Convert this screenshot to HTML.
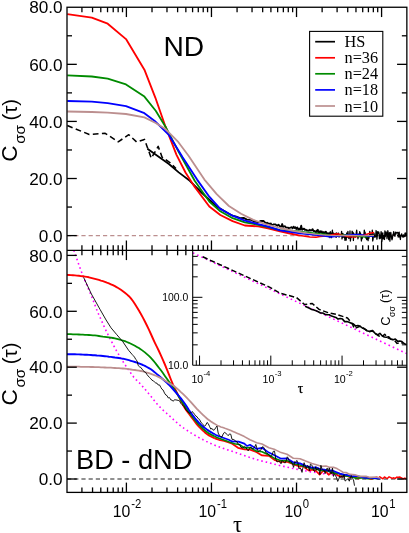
<!DOCTYPE html>
<html><head><meta charset="utf-8"><title>C(tau)</title>
<style>html,body{margin:0;padding:0;background:#fff;}body{width:409px;height:533px;overflow:hidden;font-family:"Liberation Sans",sans-serif;}</style></head>
<body>
<svg width="409" height="533" viewBox="0 0 409 533" style="display:block;will-change:transform">
<rect x="0" y="0" width="409" height="533" fill="#fff"/>
<defs>
<clipPath id="c1"><rect x="67.0" y="7.25" width="339.85" height="243.05"/></clipPath>
<clipPath id="c2"><rect x="67.0" y="250.3" width="339.85" height="242.09999999999997"/></clipPath>
<clipPath id="c3"><rect x="192.7" y="250.3" width="214.15000000000003" height="115.0"/></clipPath>
</defs>
<g clip-path="url(#c1)">
<line x1="67.00" y1="235.60" x2="406.85" y2="235.60" stroke="#bc8f8f" stroke-width="1.1" stroke-dasharray="4.2 3"/>
<polyline points="67.3,125.5 89.3,134.5 105.2,133.3 118.2,141.8 128.8,134.7 136.6,141.9 144.5,139.4 147.4,147.4 151.3,158.2 158.2,146.4 162.1,157.2 169.9,162.6 176.0,168.5" fill="none" stroke="#000" stroke-width="1.55" stroke-linejoin="round" stroke-dasharray="5.7 3.4"/>
<polyline points="147.4,148.8 168.9,164.0 178.7,172.4 189.8,180.8 202.0,193.0 216.7,206.5 228.9,213.8 232.5,215.6 236.2,216.6 240.0,218.2 243.6,217.9 247.0,219.6 250.9,219.8 254.5,221.6 258.2,222.2 261.0,220.8 263.5,221.0 266.0,223.4 267.0,222.6 267.9,223.9 268.9,223.3 269.8,224.2 270.8,223.4 271.7,225.2 272.7,224.9 273.6,224.3 274.6,224.3 275.5,224.4 276.5,225.3 277.4,225.8 278.4,224.7 279.3,225.5 280.3,226.8 281.2,226.7 282.2,224.0 283.1,227.0 284.1,226.5 285.0,226.2 286.0,227.6 286.9,227.7 287.9,227.6 288.8,228.1 289.8,227.9 290.7,227.5 291.7,227.2 292.6,228.4 293.6,226.6 294.5,228.1 295.5,227.3 296.4,229.0 297.4,227.5 298.3,229.5 299.3,228.6 300.2,229.5 301.2,225.7 302.1,229.9 303.1,229.1 304.0,228.6 305.0,230.0 305.9,229.7 306.9,230.6 307.8,230.3 308.8,230.8 309.7,229.8 310.7,230.5 311.6,230.3 312.6,229.2 313.5,231.0 314.5,231.0 315.4,232.0 316.4,230.9 317.3,231.5 318.3,231.2 319.2,232.4 320.2,231.2 321.1,232.1 322.1,232.9 323.0,232.2 324.0,232.4 324.9,232.9 325.9,231.6 326.8,233.3 327.8,233.3 328.7,233.5 329.7,233.9 330.6,234.1 331.6,234.3 332.5,233.9 333.5,233.5 334.4,234.4 335.4,234.3 336.3,233.3 337.3,234.1" fill="none" stroke="#000" stroke-width="1.8" stroke-linejoin="round" />
<polyline points="316.0,230.5 316.4,230.5 316.8,232.3 317.3,229.5 317.7,231.7 318.1,229.6 318.5,233.1 318.9,232.2 319.4,233.6 319.8,231.6 320.2,232.7 320.6,232.0 321.0,231.5 321.5,232.6 321.9,231.0 322.3,232.1 322.7,233.5 323.1,232.8 323.6,232.3 324.0,235.6 324.4,233.0 324.8,232.2 325.2,233.3 325.7,232.4 326.1,232.6 326.5,232.8 326.9,236.2 327.3,233.4 327.8,233.7 328.2,234.5 328.6,236.6 329.0,233.3 329.4,232.8 329.9,237.6 330.3,231.6 330.7,233.3 331.1,235.0 331.5,237.7 332.0,232.5 332.4,230.1 332.8,235.3 333.2,233.4 333.6,233.6 334.1,235.2 334.5,234.8 334.9,235.0 335.3,233.8 335.7,236.9 336.2,237.4 336.6,234.8 337.0,233.9 337.4,236.2 337.8,235.8 338.3,233.0 338.7,234.1 339.1,237.1 339.5,234.9 339.9,234.5 340.4,235.6 340.8,235.2 341.2,235.2 341.6,231.3 342.0,238.9 342.5,235.7 342.9,233.4 343.3,237.4 343.7,236.0 344.1,235.3 344.6,237.6 345.0,240.3 345.4,236.6 345.8,238.9 346.2,240.2 346.7,233.0 347.1,234.2 347.5,237.2 347.9,231.4 348.3,234.8 348.8,238.5 349.2,237.9 349.6,236.9 350.0,230.9 350.4,241.0 350.9,236.8 351.3,237.4 351.7,236.8 352.1,231.2 352.5,231.9 353.0,232.4 353.4,240.5 353.8,233.4 354.2,234.9 354.6,234.9 355.1,237.1 355.5,236.9 355.9,236.3 356.3,232.3 356.7,230.1 357.2,236.0 357.6,236.3 358.0,238.8 358.4,235.3 358.8,234.0 359.3,236.7 359.7,231.6 360.1,232.9 360.5,233.0 360.9,236.3 361.4,241.0 361.8,237.6 362.2,238.6 362.6,236.2 363.0,236.3 363.5,234.4 363.9,234.9 364.3,230.1 364.7,232.5 365.1,232.2 365.6,237.8 366.0,237.3 366.4,238.6 366.8,239.7 367.2,234.8 367.7,238.3 368.1,240.7 368.5,235.6 368.9,238.4 369.3,235.2 369.8,231.4 370.2,235.9 370.6,233.5 371.0,235.9 371.4,234.4 371.9,236.4 372.3,230.1 372.7,241.0 373.1,239.1 373.5,234.7 374.0,233.2 374.4,235.6 374.8,237.4 375.2,236.7 375.6,236.6 376.1,230.5 376.5,232.7 376.9,239.1 377.3,236.2 377.7,231.6 378.2,233.3 378.6,231.8 379.0,232.9 379.4,238.7 379.8,235.0 380.3,238.5 380.7,236.1 381.1,231.6 381.5,233.9 381.9,241.1 382.4,233.6 382.8,232.8 383.2,238.9 383.6,235.8 384.0,235.6 384.5,239.5 384.9,230.9 385.3,236.7 385.7,232.8 386.1,231.9 386.6,233.4 387.0,238.7 387.4,235.2 387.8,230.7 388.2,232.7 388.7,239.7 389.1,238.3 389.5,232.7 389.9,241.1 390.3,234.6 390.8,232.4 391.2,235.2 391.6,238.1 392.0,239.9 392.4,238.3 392.9,234.5 393.3,234.1 393.7,231.7 394.1,235.4 394.5,234.0 395.0,236.3 395.4,232.2 395.8,234.2 396.2,233.3 396.6,232.4 397.1,232.4 397.5,232.9 397.9,232.4 398.3,237.1 398.7,235.9 399.2,232.1 399.6,237.0 400.0,236.4 400.4,239.5 400.8,235.1 401.3,235.0 401.7,233.8 402.1,235.9 402.5,236.9 402.9,236.1 403.4,234.9 403.8,237.1 404.2,235.8 404.6,236.3 405.0,233.1 405.5,236.2 405.9,232.9 406.3,233.4 406.7,236.0" fill="none" stroke="#000" stroke-width="1.25" stroke-linejoin="round" />
<polyline points="300.0,235.6 310.0,237.0 316.0,237.2 320.0,236.6 326.0,236.0 331.0,235.0 337.0,233.8 343.0,235.2 349.0,236.8 355.0,237.0 361.0,235.6 366.0,234.4 370.0,233.2 374.0,232.4" fill="none" stroke="#ff0000" stroke-width="1.5" stroke-linejoin="round" />
<polyline points="67.3,14.2 91.8,17.6 107.7,23.7 126.0,39.1 144.4,69.7 155.4,97.8 165.5,126.7 176.5,154.8 185.5,172.5 194.7,186.9 209.3,206.5 220.3,215.0 232.6,221.1 244.8,225.5 258.2,226.4 268.0,228.4 280.0,231.4 290.0,233.5 300.0,235.6" fill="none" stroke="#ff0000" stroke-width="1.85" stroke-linejoin="round" />
<polyline points="300.0,231.4 310.0,232.6 320.0,233.8 325.0,234.2 330.0,235.4 338.0,235.8 346.0,234.8 352.0,235.4 359.0,236.2 365.0,237.0 370.0,236.2 374.0,235.6" fill="none" stroke="#008b00" stroke-width="1.4" stroke-linejoin="round" />
<polyline points="67.3,75.3 91.8,76.5 107.7,78.7 126.0,84.4 144.4,96.6 155.7,110.8 165.5,126.7 178.9,152.3 194.7,180.8 209.3,201.6 220.3,211.3 232.6,218.2 244.8,222.3 258.2,224.8 268.0,227.2 280.0,230.2 290.0,230.6 300.0,231.4" fill="none" stroke="#008b00" stroke-width="1.8" stroke-linejoin="round" />
<polyline points="300.0,233.4 310.0,234.6 320.0,235.4 326.0,236.2 331.0,236.9 337.0,236.2 344.0,235.6 351.0,234.8 358.0,234.4 364.0,235.2 369.0,236.2 374.0,236.0" fill="none" stroke="#0000ff" stroke-width="1.5" stroke-linejoin="round" />
<polyline points="67.3,101.0 91.8,101.7 107.7,103.2 126.0,106.1 144.4,113.2 155.7,121.8 169.1,135.2 182.6,157.2 197.1,179.6 209.3,196.7 220.3,208.9 232.6,215.7 244.8,220.6 258.2,224.1 268.0,226.5 280.0,230.4 290.0,231.8 300.0,233.4" fill="none" stroke="#0000ff" stroke-width="1.85" stroke-linejoin="round" />
<polyline points="305.0,232.8 320.0,234.6 335.0,235.6 350.0,235.4 362.0,235.8 374.0,235.4" fill="none" stroke="#bc8f8f" stroke-width="1.3" stroke-linejoin="round" />
<polyline points="67.3,111.5 91.8,112.0 107.7,112.7 126.0,114.0 144.4,117.4 155.7,123.0 165.5,129.1 177.7,141.3 188.7,156.0 204.4,179.6 216.7,194.2 228.9,206.0 241.1,213.8 253.3,219.9 265.6,224.1 280.0,228.0 292.0,230.6 305.0,232.8" fill="none" stroke="#bc8f8f" stroke-width="1.8" stroke-linejoin="round" />
</g>
<g clip-path="url(#c2)">
<line x1="67.00" y1="479.00" x2="406.85" y2="479.00" stroke="#222" stroke-width="1.2" stroke-dasharray="4.2 3"/>
<polyline points="73.8,250.3 76.3,257.4 78.8,264.6 81.3,271.5 83.8,277.9 86.3,283.9 88.8,289.8 91.3,295.7 93.8,301.9 96.3,308.7 98.8,314.6 101.3,320.2 103.8,325.8 106.3,331.2 108.8,336.2 111.3,341.1 113.8,345.8 116.3,350.4 118.8,354.7 121.3,358.9 123.8,362.8 126.3,366.6 128.8,370.2 131.3,373.8 133.8,377.2 136.3,379.9 138.8,382.3 141.3,384.9 143.8,387.8 146.3,390.8 148.8,393.8 151.3,396.8 153.8,400.0 156.3,403.1 158.8,405.9 161.3,408.5 163.8,410.8 166.3,413.0 168.8,415.2 171.3,417.5 173.8,419.8 176.3,422.1 178.8,424.3 181.3,426.3 183.8,428.1 186.3,429.8 188.8,431.5 191.3,433.1 193.8,434.6 196.3,436.1 198.8,437.5 201.3,438.8 203.8,440.1 206.3,441.4 208.8,442.6 211.3,443.7 213.8,444.8 216.3,445.9 218.8,446.8 221.3,447.8 223.8,448.6 226.3,449.4 228.8,450.2 231.3,451.0 233.8,451.9 236.3,452.7 238.8,453.6 241.3,454.5 243.8,455.4 246.3,456.2 248.8,457.1 251.3,457.9 253.8,458.7 256.3,459.5 258.8,460.2 261.3,460.9 263.8,461.5 266.3,462.1 268.8,462.8 271.3,463.4 273.8,464.0 276.3,464.7 278.8,465.3 281.3,465.8 283.8,466.4 286.3,467.0 288.8,467.5 291.3,468.1 293.8,468.6 296.3,469.1 298.8,469.6 301.3,470.1 303.8,470.6 306.3,471.0 308.8,471.5 311.3,471.9 313.8,472.3 316.3,472.7 318.8,473.0 321.3,473.4 323.8,473.7 326.3,474.0 328.8,474.3 331.3,474.6 333.8,474.9 336.3,475.1 338.8,475.4 341.3,475.6 343.8,475.9 346.3,476.1 348.8,476.3 351.3,476.5 353.8,476.7 356.3,476.9 358.8,477.0 361.3,477.2 363.8,477.3 366.3,477.5 368.8,477.6 371.3,477.7 373.8,477.8 376.3,477.9 378.8,478.0" fill="none" stroke="#ff00ff" stroke-width="1.6" stroke-linejoin="round" stroke-dasharray="1.6 2.9" stroke-linecap="butt"/>
<polyline points="214.9,438.4 216.9,439.1 218.9,439.8 224.0,441.0 228.7,442.5 232.2,443.8 238.0,447.8 244.4,449.3 250.0,449.6 256.7,452.2 262.0,455.4 268.9,455.8 275.0,460.2 281.1,462.0 287.0,461.8 293.3,464.2 300.0,466.8 303.0,466.0 305.6,468.4 309.0,470.6 312.0,469.6 316.0,471.0 319.6,474.6 323.0,471.0 326.0,471.6 328.7,474.8 332.0,472.4 335.0,473.2 338.0,475.6 342.0,476.6 346.0,475.4 350.0,477.2 354.0,476.4 358.0,478.6 362.0,477.0 366.0,477.6 372.0,479.2" fill="none" stroke="#ff0000" stroke-width="1.7" stroke-linejoin="round" />
<polyline points="66.9,274.9 68.9,275.0 70.9,275.1 72.9,275.2 74.9,275.4 76.9,275.6 78.9,275.8 80.9,276.1 82.9,276.3 84.9,276.6 86.9,276.9 88.9,277.3 90.9,277.8 92.9,278.3 94.9,278.8 96.9,279.3 98.9,279.9 100.9,280.6 102.9,281.2 104.9,281.9 106.9,282.7 108.9,283.4 110.9,284.3 112.9,285.2 114.9,286.2 116.9,287.3 118.9,288.5 120.9,289.8 122.9,291.2 124.9,292.7 126.9,294.4 128.9,296.2 130.9,298.4 132.9,301.0 134.9,304.0 136.9,307.2 138.9,310.5 140.9,314.0 142.9,317.6 144.9,321.5 146.9,325.5 148.9,329.7 150.9,334.0 152.9,338.5 154.9,342.8 156.9,346.9 158.9,351.0 160.9,355.4 162.9,359.9 164.9,364.5 166.9,369.3 168.9,374.4 170.9,379.5 172.9,384.3 174.9,388.6 176.9,392.7 178.9,396.6 180.9,400.7 182.9,404.7 184.9,408.2 186.9,411.1 188.9,413.7 190.9,416.3 192.9,419.0 194.9,421.7 196.9,424.3 198.9,426.6 200.9,428.6 202.9,430.6 204.9,432.4 206.9,434.0 208.9,435.4 210.9,436.5 212.9,437.5 214.9,438.4" fill="none" stroke="#ff0000" stroke-width="1.9" stroke-linejoin="round" />
<polyline points="372.0,479.2 373.6,477.8 375.2,477.6 376.7,477.1 378.3,478.7 379.8,476.8 381.4,477.9 382.9,478.8 384.5,476.9 386.0,478.0 387.6,478.2 389.1,476.8 390.7,477.6 392.2,478.4 393.8,477.8 395.3,478.4 396.9,477.1 398.4,477.3 400.0,477.0 401.5,477.9 403.1,478.9 404.6,478.1 406.2,478.5" fill="none" stroke="#ff0000" stroke-width="1.45" stroke-linejoin="round" />
<polyline points="214.9,436.5 216.9,437.4 218.9,438.2 228.7,441.8 234.6,443.7 240.0,444.8 244.4,447.9 250.0,447.6 256.7,451.2 262.0,451.8 268.9,455.0 275.0,458.6 281.1,460.8 287.0,460.6 293.3,463.8 300.0,465.0 305.6,466.8 312.0,468.6 316.0,468.8 320.0,470.4 326.0,470.6 332.0,472.6 338.0,473.6 344.0,475.6 350.0,476.4 356.0,478.2 362.0,477.6 368.0,478.6 374.0,478.2 380.0,478.8" fill="none" stroke="#008b00" stroke-width="1.6" stroke-linejoin="round" />
<polyline points="66.9,334.1 68.9,334.1 70.9,334.2 72.9,334.3 74.9,334.3 76.9,334.4 78.9,334.5 80.9,334.6 82.9,334.7 84.9,334.8 86.9,334.9 88.9,335.0 90.9,335.1 92.9,335.3 94.9,335.4 96.9,335.7 98.9,336.0 100.9,336.3 102.9,336.6 104.9,336.8 106.9,337.1 108.9,337.4 110.9,337.7 112.9,338.0 114.9,338.4 116.9,338.9 118.9,339.4 120.9,340.0 122.9,340.6 124.9,341.2 126.9,342.0 128.9,342.8 130.9,343.7 132.9,344.7 134.9,345.7 136.9,346.9 138.9,348.1 140.9,349.4 142.9,350.9 144.9,352.4 146.9,354.1 148.9,355.9 150.9,357.9 152.9,360.1 154.9,362.5 156.9,365.1 158.9,367.7 160.9,370.3 162.9,373.1 164.9,375.9 166.9,378.7 168.9,381.5 170.9,384.3 172.9,387.2 174.9,390.2 176.9,393.4 178.9,396.7 180.9,400.0 182.9,403.2 184.9,406.3 186.9,409.3 188.9,412.1 190.9,414.8 192.9,417.5 194.9,420.0 196.9,422.4 198.9,424.6 200.9,426.6 202.9,428.6 204.9,430.4 206.9,432.0 208.9,433.4 210.9,434.5 212.9,435.6 214.9,436.5" fill="none" stroke="#008b00" stroke-width="1.8" stroke-linejoin="round" />
<polyline points="214.9,434.4 216.9,435.4 218.9,436.3 228.7,439.8 232.2,441.4 238.5,441.6 244.4,443.6 247.0,446.0 250.0,444.8 256.7,448.9 262.0,447.8 268.9,452.6 275.0,455.4 281.1,458.7 287.0,458.4 293.3,462.3 300.0,463.4 305.6,465.8 312.0,467.6 316.0,467.4 320.0,469.0 324.4,469.6 328.0,470.6 332.0,470.4 336.0,472.0 340.0,473.6 344.0,474.6 348.0,475.2 352.0,476.4 358.0,476.0 364.0,477.8 372.0,478.0 380.0,478.6" fill="none" stroke="#0000ff" stroke-width="1.7" stroke-linejoin="round" />
<polyline points="66.9,354.2 68.9,354.2 70.9,354.2 72.9,354.3 74.9,354.3 76.9,354.4 78.9,354.4 80.9,354.5 82.9,354.6 84.9,354.7 86.9,354.8 88.9,354.9 90.9,355.0 92.9,355.2 94.9,355.3 96.9,355.5 98.9,355.6 100.9,355.8 102.9,356.0 104.9,356.2 106.9,356.4 108.9,356.7 110.9,356.9 112.9,357.2 114.9,357.5 116.9,357.7 118.9,358.0 120.9,358.4 122.9,358.7 124.9,359.2 126.9,359.7 128.9,360.2 130.9,360.8 132.9,361.4 134.9,362.0 136.9,362.7 138.9,363.4 140.9,364.2 142.9,365.0 144.9,365.9 146.9,367.0 148.9,368.1 150.9,369.3 152.9,370.8 154.9,372.4 156.9,374.1 158.9,375.8 160.9,377.5 162.9,379.2 164.9,381.0 166.9,382.8 168.9,384.7 170.9,386.8 172.9,389.0 174.9,391.3 176.9,393.6 178.9,396.0 180.9,398.4 182.9,401.0 184.9,403.7 186.9,406.7 188.9,410.0 190.9,412.8 192.9,415.5 194.9,418.1 196.9,420.5 198.9,422.7 200.9,424.6 202.9,426.4 204.9,428.0 206.9,429.5 208.9,430.9 210.9,432.1 212.9,433.3 214.9,434.4" fill="none" stroke="#0000ff" stroke-width="1.9" stroke-linejoin="round" />
<polyline points="214.9,424.0 216.9,425.1 218.9,426.1 220.9,426.9 222.9,427.6 224.9,428.3 226.9,428.9 228.9,429.7 230.9,430.5 232.9,431.4 234.9,432.3 236.9,433.2 238.9,434.1 244.4,436.6 250.0,439.8 256.7,442.8 262.0,444.0 268.9,447.7 275.0,449.6 281.1,452.6 287.0,454.2 293.3,458.2 300.0,458.8 305.6,461.1 312.0,463.4 318.0,465.2 322.0,466.4 326.0,466.0 330.0,467.4 334.0,467.4 337.0,468.6 340.0,470.4 343.0,472.2 346.0,472.6 350.0,474.4 355.0,474.8 360.0,476.4 366.0,476.2 370.0,477.4 376.0,477.0 380.0,478.0" fill="none" stroke="#bc8f8f" stroke-width="1.6" stroke-linejoin="round" />
<polyline points="66.9,366.6 68.9,366.6 70.9,366.6 72.9,366.6 74.9,366.7 76.9,366.7 78.9,366.7 80.9,366.8 82.9,366.8 84.9,366.8 86.9,366.9 88.9,366.9 90.9,367.0 92.9,367.0 94.9,367.1 96.9,367.2 98.9,367.2 100.9,367.3 102.9,367.4 104.9,367.5 106.9,367.6 108.9,367.6 110.9,367.7 112.9,367.9 114.9,368.0 116.9,368.1 118.9,368.2 120.9,368.4 122.9,368.5 124.9,368.7 126.9,368.9 128.9,369.2 130.9,369.5 132.9,369.8 134.9,370.0 136.9,370.3 138.9,370.6 140.9,371.0 142.9,371.4 144.9,372.0 146.9,372.6 148.9,373.2 150.9,373.9 152.9,374.6 154.9,375.3 156.9,376.2 158.9,377.1 160.9,378.1 162.9,379.2 164.9,380.5 166.9,381.7 168.9,383.0 170.9,384.2 172.9,385.3 174.9,386.7 176.9,388.4 178.9,390.2 180.9,392.1 182.9,393.9 184.9,395.9 186.9,397.9 188.9,400.0 190.9,402.1 192.9,404.3 194.9,406.6 196.9,408.8 198.9,410.9 200.9,412.9 202.9,414.8 204.9,416.7 206.9,418.5 208.9,420.1 210.9,421.5 212.9,422.8 214.9,424.0" fill="none" stroke="#bc8f8f" stroke-width="1.8" stroke-linejoin="round" />
<polyline points="83.6,277.4 91.4,294.0 100.2,309.7 106.1,320.0 111.0,327.8 116.8,334.7 122.7,341.5 128.6,350.3 132.0,354.3 133.2,355.6 134.5,357.1 135.8,359.5 137.0,360.7 138.2,365.5 139.5,366.8 140.8,367.4 142.0,369.1 143.2,370.4 144.5,372.0 145.8,372.6 147.0,374.6 148.2,376.0 149.5,377.5 150.8,378.7 152.0,380.3 153.2,380.6 154.5,382.1 155.8,383.0 157.0,383.2 158.2,385.0 159.5,384.9 160.8,387.3 162.0,389.3 163.2,390.1 164.5,393.1 165.8,395.0 167.0,395.6 168.2,397.9 169.5,397.6 170.8,399.9 172.0,400.1 173.2,401.3 174.5,399.7 175.8,399.9 177.0,400.1 178.2,400.4 179.5,400.8 180.8,403.4 182.0,404.7 183.2,405.5 184.5,407.0 185.8,409.9 187.0,410.6 188.2,412.4 189.5,413.3 190.8,412.8 192.0,411.6 193.2,412.4 194.5,414.3 195.8,416.1 197.0,416.7 198.2,418.6 199.5,419.4 200.8,422.0 202.0,423.4 203.2,424.7 204.5,426.3 205.8,425.0 207.0,422.5 208.2,423.5 209.5,426.4 210.8,429.1 212.0,428.4 213.2,430.2 214.5,429.7 215.8,427.6 217.0,426.0 218.2,433.1 219.5,435.6 220.8,436.5 222.0,436.9 223.2,434.0 224.5,432.3 225.8,433.1 227.0,434.5 228.2,435.7 229.5,433.9 230.8,434.3 232.0,439.4 233.2,439.4 234.5,439.9 235.8,441.5 237.0,441.7 238.2,444.2 239.5,444.4 240.8,447.2 242.0,447.8 243.2,447.8 244.5,446.2 245.8,447.4 247.0,449.3 248.2,450.9 249.5,448.5 250.8,446.8 252.0,448.6 253.2,448.7 254.5,447.5 255.8,444.4 257.0,448.5 258.2,451.4 259.5,450.4 260.8,450.3 262.0,447.1 263.2,446.8 264.5,448.6 265.8,452.6 267.0,453.1 268.2,453.9 269.5,455.6 270.8,456.3 272.0,455.5 273.2,451.4 274.5,451.1 275.8,459.3 277.0,462.0 278.2,461.4 279.5,461.3 281.0,463.8 282.1,460.4 283.1,461.6 284.2,462.5 285.2,462.9 286.3,460.4 287.3,456.8 288.4,458.3 289.4,462.0 290.5,461.6 291.5,462.0 292.6,464.5 293.6,467.4 294.7,461.6 295.7,462.5 296.8,460.4 297.8,462.4 298.9,468.9 299.9,468.0 301.0,469.0 302.0,472.4 303.1,466.7 304.1,462.7 305.2,466.1 306.2,468.5 307.3,465.6 308.3,466.0 309.4,470.8 310.4,464.2 311.5,464.8 312.5,466.3 313.6,470.5 314.6,471.6 315.7,466.7 316.7,470.3 317.8,468.3 318.8,468.3 319.9,474.7 320.9,465.3 322.0,469.2 323.0,470.3 324.1,470.0 325.1,473.7 326.2,469.9 327.2,468.1 328.3,471.4 329.3,467.9 330.4,473.2 331.4,473.8 332.5,468.1 333.5,476.4 334.6,473.8 335.6,475.8 336.7,477.9 337.7,481.4 338.8,479.1 339.8,475.9 340.9,477.8 341.9,476.0 343.0,477.8 344.0,474.6 345.1,481.1 346.1,480.2 347.2,479.2 348.2,478.9 349.3,481.2 350.3,477.8 351.4,475.6 352.4,478.6 353.5,479.9 354.5,485.7" fill="none" stroke="#000" stroke-width="0.9" stroke-linejoin="round" />
</g>
<rect x="192.7" y="250.3" width="214.15000000000003" height="115.0" fill="#fff"/>
<g clip-path="url(#c3)">
<polyline points="192.9,252.9 406.6,353.5" fill="none" stroke="#ff00ff" stroke-width="1.6" stroke-linejoin="round" stroke-dasharray="1.6 3.1"/>
<polyline points="202.7,256.8 270.0,287.4 280.0,293.2 296.6,297.6 304.5,304.5 312.3,303.5 319.1,309.4 328.0,312.6 336.8,314.4 342.6,316.4 347.5,318.0 352.4,324.0 354.4,328.6 360.0,326.2 363.0,328.0 366.1,329.8 369.2,332.1 372.3,330.4 375.4,333.5 378.5,335.8 381.6,337.0 384.7,334.3 387.8,337.8 390.9,339.0 394.0,339.7 397.1,343.4 400.2,342.5 403.3,343.4" fill="none" stroke="#000" stroke-width="1.5" stroke-linejoin="round" stroke-dasharray="5.3 2.6"/>
<polyline points="305.1,306.3 307.3,307.2 309.5,308.3 311.7,309.5 313.9,309.9 316.1,310.7 318.3,311.7 320.5,313.0 322.7,313.0 324.9,314.3 327.1,314.8 329.3,314.8 331.5,316.1 333.7,316.7 335.9,317.4 338.1,319.1 340.3,318.5 342.5,319.1 344.7,321.6 346.9,321.6 349.1,322.2 351.3,323.2 353.5,324.1 355.7,326.1 357.9,325.5 360.1,326.3 362.3,327.9 364.5,328.8 366.7,330.7 368.9,331.3 371.1,331.0 373.3,331.4 375.5,333.7 377.7,334.8 379.9,333.3 382.1,335.8 384.3,337.0 386.5,337.2 388.7,336.8 390.9,339.2 393.1,339.8 395.3,339.1 397.5,341.2 399.7,341.0 401.9,341.6 404.1,343.5 406.3,344.6" fill="none" stroke="#000" stroke-width="1.6" stroke-linejoin="round" />
</g>
<line x1="81.92" y1="7.25" x2="81.92" y2="12.25" stroke="#000" stroke-width="1.3" />
<line x1="92.55" y1="7.25" x2="92.55" y2="12.25" stroke="#000" stroke-width="1.3" />
<line x1="100.79" y1="7.25" x2="100.79" y2="12.25" stroke="#000" stroke-width="1.3" />
<line x1="107.53" y1="7.25" x2="107.53" y2="12.25" stroke="#000" stroke-width="1.3" />
<line x1="113.22" y1="7.25" x2="113.22" y2="12.25" stroke="#000" stroke-width="1.3" />
<line x1="118.16" y1="7.25" x2="118.16" y2="12.25" stroke="#000" stroke-width="1.3" />
<line x1="122.51" y1="7.25" x2="122.51" y2="12.25" stroke="#000" stroke-width="1.3" />
<line x1="126.40" y1="7.25" x2="126.40" y2="17.05" stroke="#000" stroke-width="1.3" />
<line x1="152.01" y1="7.25" x2="152.01" y2="12.25" stroke="#000" stroke-width="1.3" />
<line x1="166.98" y1="7.25" x2="166.98" y2="12.25" stroke="#000" stroke-width="1.3" />
<line x1="177.61" y1="7.25" x2="177.61" y2="12.25" stroke="#000" stroke-width="1.3" />
<line x1="185.85" y1="7.25" x2="185.85" y2="12.25" stroke="#000" stroke-width="1.3" />
<line x1="192.59" y1="7.25" x2="192.59" y2="12.25" stroke="#000" stroke-width="1.3" />
<line x1="198.28" y1="7.25" x2="198.28" y2="12.25" stroke="#000" stroke-width="1.3" />
<line x1="203.22" y1="7.25" x2="203.22" y2="12.25" stroke="#000" stroke-width="1.3" />
<line x1="207.57" y1="7.25" x2="207.57" y2="12.25" stroke="#000" stroke-width="1.3" />
<line x1="211.46" y1="7.25" x2="211.46" y2="17.05" stroke="#000" stroke-width="1.3" />
<line x1="237.07" y1="7.25" x2="237.07" y2="12.25" stroke="#000" stroke-width="1.3" />
<line x1="252.04" y1="7.25" x2="252.04" y2="12.25" stroke="#000" stroke-width="1.3" />
<line x1="262.67" y1="7.25" x2="262.67" y2="12.25" stroke="#000" stroke-width="1.3" />
<line x1="270.91" y1="7.25" x2="270.91" y2="12.25" stroke="#000" stroke-width="1.3" />
<line x1="277.65" y1="7.25" x2="277.65" y2="12.25" stroke="#000" stroke-width="1.3" />
<line x1="283.34" y1="7.25" x2="283.34" y2="12.25" stroke="#000" stroke-width="1.3" />
<line x1="288.28" y1="7.25" x2="288.28" y2="12.25" stroke="#000" stroke-width="1.3" />
<line x1="292.63" y1="7.25" x2="292.63" y2="12.25" stroke="#000" stroke-width="1.3" />
<line x1="296.52" y1="7.25" x2="296.52" y2="17.05" stroke="#000" stroke-width="1.3" />
<line x1="322.13" y1="7.25" x2="322.13" y2="12.25" stroke="#000" stroke-width="1.3" />
<line x1="337.10" y1="7.25" x2="337.10" y2="12.25" stroke="#000" stroke-width="1.3" />
<line x1="347.73" y1="7.25" x2="347.73" y2="12.25" stroke="#000" stroke-width="1.3" />
<line x1="355.97" y1="7.25" x2="355.97" y2="12.25" stroke="#000" stroke-width="1.3" />
<line x1="362.71" y1="7.25" x2="362.71" y2="12.25" stroke="#000" stroke-width="1.3" />
<line x1="368.40" y1="7.25" x2="368.40" y2="12.25" stroke="#000" stroke-width="1.3" />
<line x1="373.34" y1="7.25" x2="373.34" y2="12.25" stroke="#000" stroke-width="1.3" />
<line x1="377.69" y1="7.25" x2="377.69" y2="12.25" stroke="#000" stroke-width="1.3" />
<line x1="381.58" y1="7.25" x2="381.58" y2="17.05" stroke="#000" stroke-width="1.3" />
<line x1="81.92" y1="250.30" x2="81.92" y2="245.30" stroke="#000" stroke-width="1.3" />
<line x1="92.55" y1="250.30" x2="92.55" y2="245.30" stroke="#000" stroke-width="1.3" />
<line x1="100.79" y1="250.30" x2="100.79" y2="245.30" stroke="#000" stroke-width="1.3" />
<line x1="107.53" y1="250.30" x2="107.53" y2="245.30" stroke="#000" stroke-width="1.3" />
<line x1="113.22" y1="250.30" x2="113.22" y2="245.30" stroke="#000" stroke-width="1.3" />
<line x1="118.16" y1="250.30" x2="118.16" y2="245.30" stroke="#000" stroke-width="1.3" />
<line x1="122.51" y1="250.30" x2="122.51" y2="245.30" stroke="#000" stroke-width="1.3" />
<line x1="126.40" y1="250.30" x2="126.40" y2="240.50" stroke="#000" stroke-width="1.3" />
<line x1="152.01" y1="250.30" x2="152.01" y2="245.30" stroke="#000" stroke-width="1.3" />
<line x1="166.98" y1="250.30" x2="166.98" y2="245.30" stroke="#000" stroke-width="1.3" />
<line x1="177.61" y1="250.30" x2="177.61" y2="245.30" stroke="#000" stroke-width="1.3" />
<line x1="185.85" y1="250.30" x2="185.85" y2="245.30" stroke="#000" stroke-width="1.3" />
<line x1="192.59" y1="250.30" x2="192.59" y2="245.30" stroke="#000" stroke-width="1.3" />
<line x1="198.28" y1="250.30" x2="198.28" y2="245.30" stroke="#000" stroke-width="1.3" />
<line x1="203.22" y1="250.30" x2="203.22" y2="245.30" stroke="#000" stroke-width="1.3" />
<line x1="207.57" y1="250.30" x2="207.57" y2="245.30" stroke="#000" stroke-width="1.3" />
<line x1="211.46" y1="250.30" x2="211.46" y2="240.50" stroke="#000" stroke-width="1.3" />
<line x1="237.07" y1="250.30" x2="237.07" y2="245.30" stroke="#000" stroke-width="1.3" />
<line x1="252.04" y1="250.30" x2="252.04" y2="245.30" stroke="#000" stroke-width="1.3" />
<line x1="262.67" y1="250.30" x2="262.67" y2="245.30" stroke="#000" stroke-width="1.3" />
<line x1="270.91" y1="250.30" x2="270.91" y2="245.30" stroke="#000" stroke-width="1.3" />
<line x1="277.65" y1="250.30" x2="277.65" y2="245.30" stroke="#000" stroke-width="1.3" />
<line x1="283.34" y1="250.30" x2="283.34" y2="245.30" stroke="#000" stroke-width="1.3" />
<line x1="288.28" y1="250.30" x2="288.28" y2="245.30" stroke="#000" stroke-width="1.3" />
<line x1="292.63" y1="250.30" x2="292.63" y2="245.30" stroke="#000" stroke-width="1.3" />
<line x1="296.52" y1="250.30" x2="296.52" y2="240.50" stroke="#000" stroke-width="1.3" />
<line x1="322.13" y1="250.30" x2="322.13" y2="245.30" stroke="#000" stroke-width="1.3" />
<line x1="337.10" y1="250.30" x2="337.10" y2="245.30" stroke="#000" stroke-width="1.3" />
<line x1="347.73" y1="250.30" x2="347.73" y2="245.30" stroke="#000" stroke-width="1.3" />
<line x1="355.97" y1="250.30" x2="355.97" y2="245.30" stroke="#000" stroke-width="1.3" />
<line x1="362.71" y1="250.30" x2="362.71" y2="245.30" stroke="#000" stroke-width="1.3" />
<line x1="368.40" y1="250.30" x2="368.40" y2="245.30" stroke="#000" stroke-width="1.3" />
<line x1="373.34" y1="250.30" x2="373.34" y2="245.30" stroke="#000" stroke-width="1.3" />
<line x1="377.69" y1="250.30" x2="377.69" y2="245.30" stroke="#000" stroke-width="1.3" />
<line x1="381.58" y1="250.30" x2="381.58" y2="240.50" stroke="#000" stroke-width="1.3" />
<line x1="81.92" y1="250.30" x2="81.92" y2="255.30" stroke="#000" stroke-width="1.3" />
<line x1="92.55" y1="250.30" x2="92.55" y2="255.30" stroke="#000" stroke-width="1.3" />
<line x1="100.79" y1="250.30" x2="100.79" y2="255.30" stroke="#000" stroke-width="1.3" />
<line x1="107.53" y1="250.30" x2="107.53" y2="255.30" stroke="#000" stroke-width="1.3" />
<line x1="113.22" y1="250.30" x2="113.22" y2="255.30" stroke="#000" stroke-width="1.3" />
<line x1="118.16" y1="250.30" x2="118.16" y2="255.30" stroke="#000" stroke-width="1.3" />
<line x1="122.51" y1="250.30" x2="122.51" y2="255.30" stroke="#000" stroke-width="1.3" />
<line x1="126.40" y1="250.30" x2="126.40" y2="260.10" stroke="#000" stroke-width="1.3" />
<line x1="152.01" y1="250.30" x2="152.01" y2="255.30" stroke="#000" stroke-width="1.3" />
<line x1="166.98" y1="250.30" x2="166.98" y2="255.30" stroke="#000" stroke-width="1.3" />
<line x1="177.61" y1="250.30" x2="177.61" y2="255.30" stroke="#000" stroke-width="1.3" />
<line x1="185.85" y1="250.30" x2="185.85" y2="255.30" stroke="#000" stroke-width="1.3" />
<line x1="81.92" y1="492.40" x2="81.92" y2="487.40" stroke="#000" stroke-width="1.3" />
<line x1="92.55" y1="492.40" x2="92.55" y2="487.40" stroke="#000" stroke-width="1.3" />
<line x1="100.79" y1="492.40" x2="100.79" y2="487.40" stroke="#000" stroke-width="1.3" />
<line x1="107.53" y1="492.40" x2="107.53" y2="487.40" stroke="#000" stroke-width="1.3" />
<line x1="113.22" y1="492.40" x2="113.22" y2="487.40" stroke="#000" stroke-width="1.3" />
<line x1="118.16" y1="492.40" x2="118.16" y2="487.40" stroke="#000" stroke-width="1.3" />
<line x1="122.51" y1="492.40" x2="122.51" y2="487.40" stroke="#000" stroke-width="1.3" />
<line x1="126.40" y1="492.40" x2="126.40" y2="482.60" stroke="#000" stroke-width="1.3" />
<line x1="152.01" y1="492.40" x2="152.01" y2="487.40" stroke="#000" stroke-width="1.3" />
<line x1="166.98" y1="492.40" x2="166.98" y2="487.40" stroke="#000" stroke-width="1.3" />
<line x1="177.61" y1="492.40" x2="177.61" y2="487.40" stroke="#000" stroke-width="1.3" />
<line x1="185.85" y1="492.40" x2="185.85" y2="487.40" stroke="#000" stroke-width="1.3" />
<line x1="192.59" y1="492.40" x2="192.59" y2="487.40" stroke="#000" stroke-width="1.3" />
<line x1="198.28" y1="492.40" x2="198.28" y2="487.40" stroke="#000" stroke-width="1.3" />
<line x1="203.22" y1="492.40" x2="203.22" y2="487.40" stroke="#000" stroke-width="1.3" />
<line x1="207.57" y1="492.40" x2="207.57" y2="487.40" stroke="#000" stroke-width="1.3" />
<line x1="211.46" y1="492.40" x2="211.46" y2="482.60" stroke="#000" stroke-width="1.3" />
<line x1="237.07" y1="492.40" x2="237.07" y2="487.40" stroke="#000" stroke-width="1.3" />
<line x1="252.04" y1="492.40" x2="252.04" y2="487.40" stroke="#000" stroke-width="1.3" />
<line x1="262.67" y1="492.40" x2="262.67" y2="487.40" stroke="#000" stroke-width="1.3" />
<line x1="270.91" y1="492.40" x2="270.91" y2="487.40" stroke="#000" stroke-width="1.3" />
<line x1="277.65" y1="492.40" x2="277.65" y2="487.40" stroke="#000" stroke-width="1.3" />
<line x1="283.34" y1="492.40" x2="283.34" y2="487.40" stroke="#000" stroke-width="1.3" />
<line x1="288.28" y1="492.40" x2="288.28" y2="487.40" stroke="#000" stroke-width="1.3" />
<line x1="292.63" y1="492.40" x2="292.63" y2="487.40" stroke="#000" stroke-width="1.3" />
<line x1="296.52" y1="492.40" x2="296.52" y2="482.60" stroke="#000" stroke-width="1.3" />
<line x1="322.13" y1="492.40" x2="322.13" y2="487.40" stroke="#000" stroke-width="1.3" />
<line x1="337.10" y1="492.40" x2="337.10" y2="487.40" stroke="#000" stroke-width="1.3" />
<line x1="347.73" y1="492.40" x2="347.73" y2="487.40" stroke="#000" stroke-width="1.3" />
<line x1="355.97" y1="492.40" x2="355.97" y2="487.40" stroke="#000" stroke-width="1.3" />
<line x1="362.71" y1="492.40" x2="362.71" y2="487.40" stroke="#000" stroke-width="1.3" />
<line x1="368.40" y1="492.40" x2="368.40" y2="487.40" stroke="#000" stroke-width="1.3" />
<line x1="373.34" y1="492.40" x2="373.34" y2="487.40" stroke="#000" stroke-width="1.3" />
<line x1="377.69" y1="492.40" x2="377.69" y2="487.40" stroke="#000" stroke-width="1.3" />
<line x1="381.58" y1="492.40" x2="381.58" y2="482.60" stroke="#000" stroke-width="1.3" />
<line x1="67.00" y1="235.60" x2="76.80" y2="235.60" stroke="#000" stroke-width="1.3" />
<line x1="67.00" y1="207.06" x2="72.00" y2="207.06" stroke="#000" stroke-width="1.3" />
<line x1="67.00" y1="178.51" x2="76.80" y2="178.51" stroke="#000" stroke-width="1.3" />
<line x1="67.00" y1="149.97" x2="72.00" y2="149.97" stroke="#000" stroke-width="1.3" />
<line x1="67.00" y1="121.42" x2="76.80" y2="121.42" stroke="#000" stroke-width="1.3" />
<line x1="67.00" y1="92.88" x2="72.00" y2="92.88" stroke="#000" stroke-width="1.3" />
<line x1="67.00" y1="64.34" x2="76.80" y2="64.34" stroke="#000" stroke-width="1.3" />
<line x1="67.00" y1="35.79" x2="72.00" y2="35.79" stroke="#000" stroke-width="1.3" />
<line x1="406.85" y1="235.60" x2="397.05" y2="235.60" stroke="#000" stroke-width="1.3" />
<line x1="406.85" y1="207.06" x2="401.85" y2="207.06" stroke="#000" stroke-width="1.3" />
<line x1="406.85" y1="178.51" x2="397.05" y2="178.51" stroke="#000" stroke-width="1.3" />
<line x1="406.85" y1="149.97" x2="401.85" y2="149.97" stroke="#000" stroke-width="1.3" />
<line x1="406.85" y1="121.42" x2="397.05" y2="121.42" stroke="#000" stroke-width="1.3" />
<line x1="406.85" y1="92.88" x2="401.85" y2="92.88" stroke="#000" stroke-width="1.3" />
<line x1="406.85" y1="64.34" x2="397.05" y2="64.34" stroke="#000" stroke-width="1.3" />
<line x1="406.85" y1="35.79" x2="401.85" y2="35.79" stroke="#000" stroke-width="1.3" />
<line x1="67.00" y1="479.00" x2="76.80" y2="479.00" stroke="#000" stroke-width="1.3" />
<line x1="67.00" y1="451.05" x2="72.00" y2="451.05" stroke="#000" stroke-width="1.3" />
<line x1="67.00" y1="423.10" x2="76.80" y2="423.10" stroke="#000" stroke-width="1.3" />
<line x1="67.00" y1="395.15" x2="72.00" y2="395.15" stroke="#000" stroke-width="1.3" />
<line x1="67.00" y1="367.20" x2="76.80" y2="367.20" stroke="#000" stroke-width="1.3" />
<line x1="67.00" y1="339.25" x2="72.00" y2="339.25" stroke="#000" stroke-width="1.3" />
<line x1="67.00" y1="311.30" x2="76.80" y2="311.30" stroke="#000" stroke-width="1.3" />
<line x1="67.00" y1="283.35" x2="72.00" y2="283.35" stroke="#000" stroke-width="1.3" />
<line x1="67.00" y1="255.40" x2="76.80" y2="255.40" stroke="#000" stroke-width="1.3" />
<line x1="406.85" y1="479.00" x2="397.05" y2="479.00" stroke="#000" stroke-width="1.3" />
<line x1="406.85" y1="451.05" x2="401.85" y2="451.05" stroke="#000" stroke-width="1.3" />
<line x1="406.85" y1="423.10" x2="397.05" y2="423.10" stroke="#000" stroke-width="1.3" />
<line x1="406.85" y1="395.15" x2="401.85" y2="395.15" stroke="#000" stroke-width="1.3" />
<line x1="406.85" y1="367.20" x2="397.05" y2="367.20" stroke="#000" stroke-width="1.3" />
<line x1="196.29" y1="365.30" x2="196.29" y2="360.30" stroke="#000" stroke-width="1.0" />
<line x1="199.55" y1="365.30" x2="199.55" y2="355.60" stroke="#000" stroke-width="1.0" />
<line x1="221.00" y1="365.30" x2="221.00" y2="360.30" stroke="#000" stroke-width="1.0" />
<line x1="233.54" y1="365.30" x2="233.54" y2="360.30" stroke="#000" stroke-width="1.0" />
<line x1="242.45" y1="365.30" x2="242.45" y2="360.30" stroke="#000" stroke-width="1.0" />
<line x1="249.35" y1="365.30" x2="249.35" y2="360.30" stroke="#000" stroke-width="1.0" />
<line x1="254.99" y1="365.30" x2="254.99" y2="360.30" stroke="#000" stroke-width="1.0" />
<line x1="259.76" y1="365.30" x2="259.76" y2="360.30" stroke="#000" stroke-width="1.0" />
<line x1="263.90" y1="365.30" x2="263.90" y2="360.30" stroke="#000" stroke-width="1.0" />
<line x1="267.54" y1="365.30" x2="267.54" y2="360.30" stroke="#000" stroke-width="1.0" />
<line x1="270.80" y1="365.30" x2="270.80" y2="355.60" stroke="#000" stroke-width="1.0" />
<line x1="292.25" y1="365.30" x2="292.25" y2="360.30" stroke="#000" stroke-width="1.0" />
<line x1="304.79" y1="365.30" x2="304.79" y2="360.30" stroke="#000" stroke-width="1.0" />
<line x1="313.70" y1="365.30" x2="313.70" y2="360.30" stroke="#000" stroke-width="1.0" />
<line x1="320.60" y1="365.30" x2="320.60" y2="360.30" stroke="#000" stroke-width="1.0" />
<line x1="326.24" y1="365.30" x2="326.24" y2="360.30" stroke="#000" stroke-width="1.0" />
<line x1="331.01" y1="365.30" x2="331.01" y2="360.30" stroke="#000" stroke-width="1.0" />
<line x1="335.15" y1="365.30" x2="335.15" y2="360.30" stroke="#000" stroke-width="1.0" />
<line x1="338.79" y1="365.30" x2="338.79" y2="360.30" stroke="#000" stroke-width="1.0" />
<line x1="342.05" y1="365.30" x2="342.05" y2="355.60" stroke="#000" stroke-width="1.0" />
<line x1="363.50" y1="365.30" x2="363.50" y2="360.30" stroke="#000" stroke-width="1.0" />
<line x1="376.04" y1="365.30" x2="376.04" y2="360.30" stroke="#000" stroke-width="1.0" />
<line x1="384.95" y1="365.30" x2="384.95" y2="360.30" stroke="#000" stroke-width="1.0" />
<line x1="391.85" y1="365.30" x2="391.85" y2="360.30" stroke="#000" stroke-width="1.0" />
<line x1="397.49" y1="365.30" x2="397.49" y2="360.30" stroke="#000" stroke-width="1.0" />
<line x1="402.26" y1="365.30" x2="402.26" y2="360.30" stroke="#000" stroke-width="1.0" />
<line x1="192.70" y1="344.83" x2="197.70" y2="344.83" stroke="#000" stroke-width="1.0" />
<line x1="406.85" y1="344.83" x2="401.85" y2="344.83" stroke="#000" stroke-width="1.0" />
<line x1="192.70" y1="332.86" x2="197.70" y2="332.86" stroke="#000" stroke-width="1.0" />
<line x1="406.85" y1="332.86" x2="401.85" y2="332.86" stroke="#000" stroke-width="1.0" />
<line x1="192.70" y1="324.36" x2="197.70" y2="324.36" stroke="#000" stroke-width="1.0" />
<line x1="406.85" y1="324.36" x2="401.85" y2="324.36" stroke="#000" stroke-width="1.0" />
<line x1="192.70" y1="317.77" x2="197.70" y2="317.77" stroke="#000" stroke-width="1.0" />
<line x1="406.85" y1="317.77" x2="401.85" y2="317.77" stroke="#000" stroke-width="1.0" />
<line x1="192.70" y1="312.39" x2="197.70" y2="312.39" stroke="#000" stroke-width="1.0" />
<line x1="406.85" y1="312.39" x2="401.85" y2="312.39" stroke="#000" stroke-width="1.0" />
<line x1="192.70" y1="307.83" x2="197.70" y2="307.83" stroke="#000" stroke-width="1.0" />
<line x1="406.85" y1="307.83" x2="401.85" y2="307.83" stroke="#000" stroke-width="1.0" />
<line x1="192.70" y1="303.89" x2="197.70" y2="303.89" stroke="#000" stroke-width="1.0" />
<line x1="406.85" y1="303.89" x2="401.85" y2="303.89" stroke="#000" stroke-width="1.0" />
<line x1="192.70" y1="300.41" x2="197.70" y2="300.41" stroke="#000" stroke-width="1.0" />
<line x1="406.85" y1="300.41" x2="401.85" y2="300.41" stroke="#000" stroke-width="1.0" />
<line x1="192.70" y1="297.30" x2="202.40" y2="297.30" stroke="#000" stroke-width="1.0" />
<line x1="406.85" y1="297.30" x2="397.15" y2="297.30" stroke="#000" stroke-width="1.0" />
<line x1="192.70" y1="276.83" x2="197.70" y2="276.83" stroke="#000" stroke-width="1.0" />
<line x1="406.85" y1="276.83" x2="401.85" y2="276.83" stroke="#000" stroke-width="1.0" />
<line x1="192.70" y1="264.86" x2="197.70" y2="264.86" stroke="#000" stroke-width="1.0" />
<line x1="406.85" y1="264.86" x2="401.85" y2="264.86" stroke="#000" stroke-width="1.0" />
<line x1="192.70" y1="256.36" x2="197.70" y2="256.36" stroke="#000" stroke-width="1.0" />
<line x1="406.85" y1="256.36" x2="401.85" y2="256.36" stroke="#000" stroke-width="1.0" />
<rect x="67.0" y="7.25" width="339.85" height="485.15" fill="none" stroke="#000" stroke-width="1.3"/>
<line x1="67.00" y1="250.30" x2="406.85" y2="250.30" stroke="#000" stroke-width="1.3" />
<line x1="192.70" y1="250.30" x2="192.70" y2="365.30" stroke="#000" stroke-width="1.1" />
<line x1="192.70" y1="365.30" x2="406.85" y2="365.30" stroke="#000" stroke-width="1.1" />
<rect x="309.6" y="31.4" width="73.19999999999999" height="84.80000000000001" fill="#fff" stroke="#000" stroke-width="1.1"/>
<line x1="315.20" y1="41.70" x2="335.00" y2="41.70" stroke="#000" stroke-width="1.7" />
<text x="344.5" y="47.2" font-family="Liberation Serif, serif" font-size="16.3" fill="#000">HS</text>
<line x1="315.20" y1="57.80" x2="335.00" y2="57.80" stroke="#ff0000" stroke-width="1.7" />
<text x="344.5" y="63.3" font-family="Liberation Serif, serif" font-size="16.3" fill="#000">n=36</text>
<line x1="315.20" y1="73.80" x2="335.00" y2="73.80" stroke="#008b00" stroke-width="1.7" />
<text x="344.5" y="79.3" font-family="Liberation Serif, serif" font-size="16.3" fill="#000">n=24</text>
<line x1="315.20" y1="89.90" x2="335.00" y2="89.90" stroke="#0000ff" stroke-width="1.7" />
<text x="344.5" y="95.4" font-family="Liberation Serif, serif" font-size="16.3" fill="#000">n=18</text>
<line x1="315.20" y1="106.00" x2="335.00" y2="106.00" stroke="#bc8f8f" stroke-width="1.7" />
<text x="344.5" y="111.5" font-family="Liberation Serif, serif" font-size="16.3" fill="#000">n=10</text>
<text x="62.6" y="13.4" font-family="Liberation Sans, sans-serif" font-size="17.2" text-anchor="end" fill="#000">80.0</text>
<text x="62.6" y="70.5" font-family="Liberation Sans, sans-serif" font-size="17.2" text-anchor="end" fill="#000">60.0</text>
<text x="62.6" y="127.6" font-family="Liberation Sans, sans-serif" font-size="17.2" text-anchor="end" fill="#000">40.0</text>
<text x="62.6" y="184.7" font-family="Liberation Sans, sans-serif" font-size="17.2" text-anchor="end" fill="#000">20.0</text>
<text x="62.6" y="241.8" font-family="Liberation Sans, sans-serif" font-size="17.2" text-anchor="end" fill="#000">0.0</text>
<text x="62.6" y="261.6" font-family="Liberation Sans, sans-serif" font-size="17.2" text-anchor="end" fill="#000">80.0</text>
<text x="62.6" y="317.5" font-family="Liberation Sans, sans-serif" font-size="17.2" text-anchor="end" fill="#000">60.0</text>
<text x="62.6" y="373.4" font-family="Liberation Sans, sans-serif" font-size="17.2" text-anchor="end" fill="#000">40.0</text>
<text x="62.6" y="429.3" font-family="Liberation Sans, sans-serif" font-size="17.2" text-anchor="end" fill="#000">20.0</text>
<text x="62.6" y="485.2" font-family="Liberation Sans, sans-serif" font-size="17.2" text-anchor="end" fill="#000">0.0</text>
<text transform="translate(112.8,516.5) scale(0.92,1)" font-family="Liberation Sans, sans-serif" font-size="17.2" fill="#000">10<tspan dy="-8.9" dx="0.9" font-size="12.3">-2</tspan></text>
<text transform="translate(198.5,516.5) scale(0.92,1)" font-family="Liberation Sans, sans-serif" font-size="17.2" fill="#000">10<tspan dy="-8.9" dx="0.9" font-size="12.3">-1</tspan></text>
<text transform="translate(284.4,516.5) scale(0.92,1)" font-family="Liberation Sans, sans-serif" font-size="17.2" fill="#000">10<tspan dy="-8.9" dx="0.9" font-size="12.3">0</tspan></text>
<text transform="translate(370.9,516.5) scale(0.92,1)" font-family="Liberation Sans, sans-serif" font-size="17.2" fill="#000">10<tspan dy="-8.9" dx="0.9" font-size="12.3">1</tspan></text>
<text x="237.6" y="532.2" font-family="Liberation Serif, serif" font-size="22.6" text-anchor="middle" fill="#000">τ</text>
<text x="163.4" y="56.3" font-family="Liberation Sans, sans-serif" font-size="28.2" fill="#000">ND</text>
<text x="76.0" y="468.6" font-family="Liberation Sans, sans-serif" font-size="27.2" fill="#000">BD - dND</text>
<text transform="translate(17.2,161.7) rotate(-90)" font-family="Liberation Sans, sans-serif" font-size="22.6" fill="#000">C</text>
<text transform="translate(25.3,143.8) rotate(-90)" font-family="Liberation Sans, sans-serif" font-size="15.2" fill="#000">σσ</text>
<text transform="translate(17.0,120.5) rotate(-90)" font-family="Liberation Sans, sans-serif" font-size="20.4" fill="#000">(τ)</text>
<text transform="translate(17.2,405.4) rotate(-90)" font-family="Liberation Sans, sans-serif" font-size="22.6" fill="#000">C</text>
<text transform="translate(25.3,387.5) rotate(-90)" font-family="Liberation Sans, sans-serif" font-size="15.2" fill="#000">σσ</text>
<text transform="translate(17.0,364.2) rotate(-90)" font-family="Liberation Sans, sans-serif" font-size="20.4" fill="#000">(τ)</text>
<text x="188.2" y="301.0" font-family="Liberation Sans, sans-serif" font-size="10.4" text-anchor="end" fill="#000">100.0</text>
<text x="188.2" y="369.0" font-family="Liberation Sans, sans-serif" font-size="10.4" text-anchor="end" fill="#000">10.0</text>
<text x="191.4" y="382.6" font-family="Liberation Sans, sans-serif" font-size="10.6" fill="#000">10<tspan dy="-6.4" dx="0.3" font-size="7.7">-4</tspan></text>
<text x="262.6" y="382.6" font-family="Liberation Sans, sans-serif" font-size="10.6" fill="#000">10<tspan dy="-6.4" dx="0.3" font-size="7.7">-3</tspan></text>
<text x="333.9" y="382.6" font-family="Liberation Sans, sans-serif" font-size="10.6" fill="#000">10<tspan dy="-6.4" dx="0.3" font-size="7.7">-2</tspan></text>
<text x="300.6" y="393.2" font-family="Liberation Serif, serif" font-size="13.6" stroke="#000" stroke-width="0.25" text-anchor="middle" fill="#000">τ</text>
<text transform="translate(389.5,325.8) rotate(-90)" font-family="Liberation Sans, sans-serif" font-size="12.8" fill="#000">C</text>
<text transform="translate(394.7,316.9) rotate(-90)" font-family="Liberation Sans, sans-serif" font-size="8.6" fill="#000">σσ</text>
<text transform="translate(389.4,302.9) rotate(-90)" font-family="Liberation Sans, sans-serif" font-size="12.6" fill="#000">(τ)</text>
</svg>
</body></html>
